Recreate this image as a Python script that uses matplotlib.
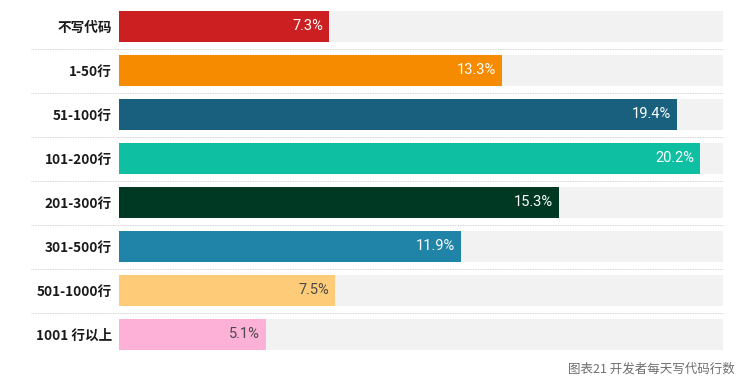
import matplotlib
matplotlib.use("Agg")
import matplotlib.pyplot as plt

plt.rcParams['font.family'] = ['Noto Sans CJK SC', 'DejaVu Sans']

categories = ["不写代码", "1-50行", "51-100行", "101-200行", "201-300行", "301-500行", "501-1000行", "1001 行以上"]
values = [7.3, 13.3, 19.4, 20.2, 15.3, 11.9, 7.5, 5.1]
colors = ["#CB1F21", "#F68B00", "#19607F", "#0EBFA1", "#003923", "#1F84A7", "#FECB78", "#FDB1D6"]
label_colors = ["white", "white", "white", "white", "white", "white", "#4A4A4A", "#4A4A4A"]
caption = "图表21 开发者每天写代码行数"
xmax = 21.0

W, H = 752, 390
fig = plt.figure(figsize=(W / 100, H / 100), dpi=100)
ax = fig.add_axes([119 / W, 1 - 356.5 / H, 604 / W, 352 / H])

n = len(categories)
ypos = list(range(n))
ax.barh(ypos, [xmax] * n, height=0.705, color="#F2F2F2", zorder=1)
ax.barh(ypos, values, height=0.705, color=colors, zorder=2)

for y, v, lc in zip(ypos, values, label_colors):
    ax.text(v - 0.2, y, f"{v}%", ha="right", va="center", color=lc,
            fontsize=10.5, family=["Roboto", "DejaVu Sans"], zorder=3)

# dotted separators
for y in range(n - 1):
    ax.plot([-0.1457, 1.0], [y + 0.5, y + 0.5], transform=ax.get_yaxis_transform(),
            color="#C4C4C4", lw=0.6, ls=(0, (1, 1)), clip_on=False, zorder=0)

ax.set_xlim(0, xmax)
ax.set_ylim(n - 0.5, -0.5)
ax.set_yticks(ypos)
ax.set_yticklabels(categories, fontsize=9.8, fontweight="bold", color="#1A1A1A")
ax.tick_params(axis="y", length=0, pad=5)
ax.set_xticks([])
for s in ax.spines.values():
    s.set_visible(False)

fig.text(735 / W, 1 - 369 / H, caption, ha="right", va="center", fontsize=9, color="#6E6E6E")

fig.savefig("out.png", dpi=100)
